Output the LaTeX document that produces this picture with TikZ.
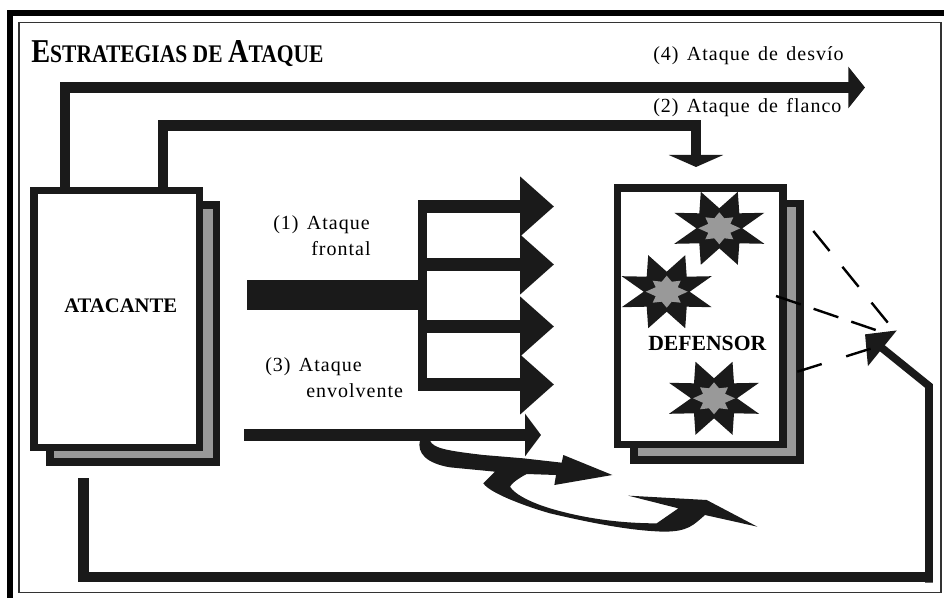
\documentclass[tikz,border=0pt]{standalone}
\usepackage{fontspec}
\setmainfont{Liberation Serif}
\newfontfamily\labfont[LetterSpace=5,WordSpace=1.4]{Liberation Serif}
\newfontfamily\titlefont[FakeStretch=0.85]{Liberation Serif}
\usetikzlibrary{arrows.meta}
\definecolor{ink}{HTML}{1A1A1A}
\definecolor{shade}{HTML}{999999}
\tikzset{
  x=0.75pt,y=-0.75pt,
  front/.style={draw=ink,fill=white,line width=5.6pt,inner sep=0pt,minimum width=124.1pt,minimum height=192.4pt},
  back/.style={draw=ink,fill=shade,line width=5.6pt,inner sep=0pt,minimum width=124.6pt,minimum height=192.6pt},
  routed/.style={draw=ink,line width=8.2pt},
  lab/.style={anchor=base west,inner sep=0pt,font=\labfont\fontsize{15}{15}\selectfont},
  boxlab/.style={anchor=base west,inner sep=0pt,font=\bfseries\fontsize{15.5}{15.5}\selectfont},
  branch/.style={draw=ink,line width=9.4pt,-{Triangle[length=25.5pt,width=43.5pt,color=ink]}},
  dashline/.style={draw=black,line width=1.8pt},
  burstouter/.style={fill=ink},
  burstinner/.style={fill=shade},
}
\newcommand{\burst}[2]{%
  \fill[burstouter] (#1+18.5,#2-36.5)--(#1+20,#2-15)--(#1+45,#2-15.5)--(#1+23,#2)--(#1+45,#2+15.5)--(#1+20,#2+15)--(#1+18.5,#2+36.5)--(#1,#2+20)--(#1-18.5,#2+36.5)--(#1-20,#2+15)--(#1-45,#2+15.5)--(#1-23,#2)--(#1-45,#2-15.5)--(#1-20,#2-15)--(#1-18.5,#2-36.5)--(#1,#2-20)--cycle;
  \fill[burstinner] (#1+21,#2)--(#1+11,#2+4.5)--(#1+14,#2+11)--(#1+5,#2+10)--(#1,#2+16)--(#1-5,#2+10)--(#1-14,#2+11)--(#1-11,#2+4.5)--(#1-21,#2)--(#1-11,#2-4.5)--(#1-14,#2-11)--(#1-5,#2-10)--(#1,#2-16)--(#1+5,#2-10)--(#1+14,#2-11)--(#1+11,#2-4.5)--cycle;
}
\begin{document}
\begin{tikzpicture}
\useasboundingbox (0,0) rectangle (944,598);
\fill[white] (0,0) rectangle (944,598);
% frame
\fill[black] (6.5,598) rectangle (13,10);
\fill[black] (6.5,10) rectangle (944,16.5);
\draw[black!80,line width=1.1pt] (19,22.5) rectangle (941,592.7);
% title
\node[anchor=base west,inner sep=0pt] (title) at (31,62.5) {\titlefont\bfseries\fontsize{25}{25}\selectfont E\fontsize{19}{25}\selectfont STRATEGIAS DE \fontsize{25}{25}\selectfont A\fontsize{19}{25}\selectfont TAQUE};
% boxes
\node[back] (atacanteback) at (133.25,333.5) {};
\node[front] (atacante) at (116.75,319) {};
\node[back] (defensorback) at (717,331.75) {};
\node[front] (defensor) at (700.25,316.4) {};
\node[boxlab] (atacantelab) at (64,312) {ATACANTE};
% coordinates
\coordinate (c4) at (65,87.5);
\coordinate (t4) at (865,87.5);
\coordinate (c2) at (163,125.5);
\coordinate (e2) at (696,125.5);
\coordinate (t2) at (696,167);
\coordinate (s1) at (247,295);
\coordinate (e1) at (426,295);
\coordinate (forkt) at (422.5,200.7);
\coordinate (forkb) at (422.5,390.7);
\coordinate (b1) at (418,206.5);
\coordinate (b2) at (418,264.5);
\coordinate (b3) at (418,326.5);
\coordinate (b4) at (418,384.5);
\coordinate (h1) at (554,206.5);
\coordinate (h2) at (554,264.5);
\coordinate (h3) at (554,326.5);
\coordinate (h4) at (554,384.5);
\coordinate (s3) at (244,435);
\coordinate (h5) at (541,435);
\coordinate (s5) at (83.5,478);
\coordinate (r1) at (932.7,577);
\coordinate (r2) at (929,582.7);
\coordinate (r3) at (929,386);
\coordinate (tip) at (865,334.3);
% routes
\draw[routed,-{Triangle[length=12.5pt,width=30.5pt,color=ink]}] (atacante.north -| c4) |- (t4);
\draw[routed,-{Triangle[length=9pt,width=40.5pt,color=ink]}] (atacante.north -| c2) |- (e2) -- (t2);
\draw[draw=ink,line width=22.5pt] (s1) -- (e1);
\draw[draw=ink,line width=6.75pt] (forkt) -- (forkb);
\draw[branch] (b1) -- (h1);
\draw[branch] (b2) -- (h2);
\draw[branch] (b3) -- (h3);
\draw[branch] (b4) -- (h4);
\draw[draw=ink,line width=9pt,-{Triangle[length=12pt,width=31.5pt,color=ink]}] (s3) -- (h5);
% curved arrows
\begin{scope}[shift={(400,410)},x=0.25pt,y=-0.25pt]
\fill[ink] (90,92) .. controls (100,115) and (140,122) .. (250,135) -- (370,145) -- (485,158) -- (490,135) -- (637,195) -- (463,225) -- (468,195) -- (380,192) .. controls (355,205) and (335,220) .. (330,230) .. controls (345,255) and (400,280) .. (450,295) .. controls (540,322) and (650,340) .. (770,340) -- (835,295) -- (685,257) -- (920,270) -- (1072,350) -- (915,315) .. controls (880,345) and (865,365) .. (790,365) .. controls (700,362) and (600,345) .. (450,310) .. controls (380,290) and (270,250) .. (250,220) -- (285,185) -- (150,172) .. controls (80,160) and (50,130) .. (60,90) -- cycle;
\end{scope}
% bottom route
\draw[draw=ink,line width=8pt] (s5) |- (r1);
\draw[draw=ink,line width=5.8pt,-{Triangle[length=16.7pt,width=33.4pt,color=ink]}] (r2) -- (r3) -- (tip);
% bursts
\burst{719.3}{228.3}
\burst{666.7}{291.7}
\burst{714}{398.3}
\node[boxlab,font=\bfseries\fontsize{16.25}{16.25}\selectfont] (defensorlab) at (648,350) {DEFENSOR};
% dashed lines
\coordinate (da1) at (813.3,231); \coordinate (da2) at (888.3,323.3);
\coordinate (db1) at (776,296); \coordinate (db2) at (875.7,330);
\coordinate (dc1) at (797.3,371.7); \coordinate (dc2) at (871.7,348.3);
\draw[dashline,dash pattern=on 19.3pt off 15.3pt] (da1) -- (da2);
\draw[dashline,dash pattern=on 19.6pt off 10.2pt] (db1) -- (db2);
\draw[dashline,dash pattern=on 19.2pt off 19.2pt] (dc1) -- (dc2);
% labels
\node[lab] (l4) at (653,60.7) {(4) Ataque de desvío};
\node[lab] (l2) at (653,112.7) {(2) Ataque de flanco};
\node[lab] (l1a) at (273,230) {(1) Ataque};
\node[lab] (l1b) at (311,255.7) {frontal};
\node[lab] (l3a) at (265,371.7) {(3) Ataque};
\node[lab] (l3b) at (306,397) {envolvente};
\end{tikzpicture}
\end{document}
